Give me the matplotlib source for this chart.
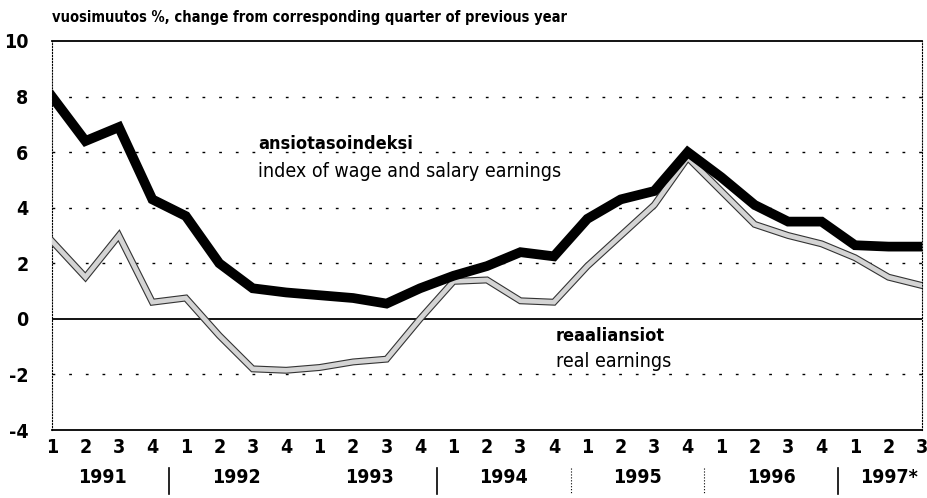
import numpy as np
import matplotlib
matplotlib.use("Agg")
import matplotlib.pyplot as plt
import matplotlib.transforms as mtransforms

quarters = ["1", "2", "3", "4"] * 6 + ["1", "2", "3"]
years = ["1991", "1992", "1993", "1994", "1995", "1996", "1997*"]
year_pos = [1.5, 5.5, 9.5, 13.5, 17.5, 21.5, 25.0]
year_seps = [3.5, 11.5, 15.5, 19.5, 23.5]
sep_styles = ["-", "-", ":", ":", "-"]

wage_index = [8.0, 6.4, 6.9, 4.3, 3.7, 2.0, 1.1, 0.95, 0.85, 0.75, 0.55, 1.1,
              1.55, 1.9, 2.4, 2.25, 3.6, 4.3, 4.6, 6.0, 5.1, 4.1, 3.5, 3.5,
              2.65, 2.6, 2.6]
real_earn = [2.8, 1.5, 3.0, 0.6, 0.75, -0.6, -1.8, -1.85, -1.75, -1.55, -1.45, 0.0,
             1.35, 1.4, 0.65, 0.6, 1.9, 3.0, 4.1, 5.8, 4.6, 3.4, 3.0, 2.7,
             2.2, 1.5, 1.2]

fnt = dict(fontfamily="DejaVu Sans", fontstretch="condensed")

fig = plt.figure(figsize=(9.28, 4.98), dpi=100)
ax = fig.add_axes([0.056, 0.1365, 0.9375, 0.7812])

x = np.arange(len(wage_index))

for g in [-2, 2, 4, 6, 8]:
    ax.axhline(g, color="black", lw=1, ls=(0, (2, 10)), zorder=1)
ax.axhline(0, color="black", lw=1.3, zorder=2)

# real earnings: double thin line with grey inside
ax.plot(x, real_earn, color="#333333", lw=5, solid_joinstyle="miter", zorder=3)
ax.plot(x, real_earn, color="#d4d4d4", lw=3.4, solid_joinstyle="miter", zorder=4)
ax.plot(x, wage_index, color="black", lw=7, solid_joinstyle="miter", zorder=5)

ax.set_xlim(0, 26)
ax.set_ylim(-4, 10)
ax.set_yticks([-4, -2, 0, 2, 4, 6, 8, 10])
ax.set_yticklabels(["-4", "-2", "0", "2", "4", "6", "8", "10"],
                   fontweight="bold", fontsize=14, **fnt)
ax.set_xticks(x)
ax.set_xticklabels(quarters, fontweight="bold", fontsize=14, **fnt)
ax.tick_params(length=0)
ax.tick_params(axis="x", pad=6)
ax.tick_params(axis="y", pad=17)

for s in ["left", "right"]:
    ax.spines[s].set_linestyle(":")
    ax.spines[s].set_linewidth(0.8)
ax.spines["top"].set_linewidth(1.3)
ax.spines["bottom"].set_linewidth(1.3)

trans = mtransforms.blended_transform_factory(ax.transData, ax.transAxes)
for name, pos in zip(years, year_pos):
    ax.text(pos, -0.123, name, transform=trans, ha="center", va="center",
            fontweight="bold", fontsize=14, **fnt)
for pos, st in zip(year_seps, sep_styles):
    ax.plot([pos, pos], [-0.098, -0.165], transform=trans, color="black",
            lw=1.2 if st == "-" else 0.8, ls=st, clip_on=False)

fig.text(0.056, 0.964, "vuosimuutos %, change from corresponding quarter of previous year",
         fontweight="bold", fontsize=10.5, ha="left", va="center", **fnt)

ax.text(6.15, 6.3, "ansiotasoindeksi", fontweight="bold", fontsize=13,
        ha="left", va="center", **fnt)
ax.text(6.15, 5.3, "index of wage and salary earnings", fontsize=14,
        ha="left", va="center", **fnt)
ax.text(15.05, -0.6, "reaaliansiot", fontweight="bold", fontsize=13,
        ha="left", va="center", **fnt)
ax.text(15.05, -1.55, "real earnings", fontsize=14,
        ha="left", va="center", **fnt)

fig.savefig("out.png", dpi=100)
